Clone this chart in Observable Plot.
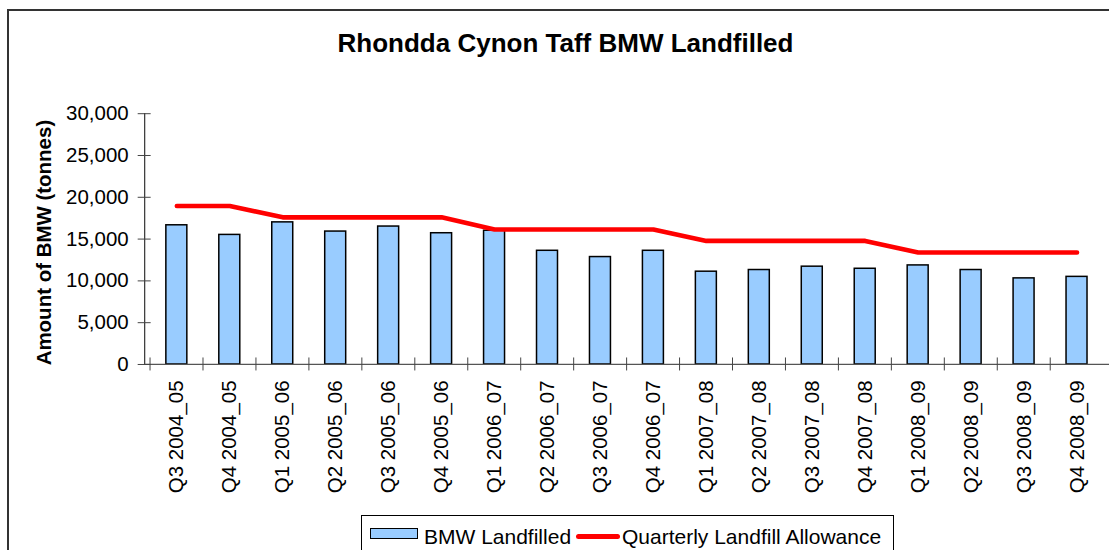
<!DOCTYPE html>
<html>
<head>
<meta charset="utf-8">
<script src="https://cdn.jsdelivr.net/npm/d3@7"></script>
<script src="https://cdn.jsdelivr.net/npm/@observablehq/plot@0.6"></script>
<style>
  html, body { margin: 0; padding: 0; background: #fff; overflow: hidden; }
  #page { position: relative; width: 1109px; height: 550px; overflow: hidden;
          font-family: "Liberation Sans", Arial, sans-serif; color: #000; }
  #frame { position: absolute; left: 7px; top: 9px; width: 1200px; height: 700px;
           border-left: 2px solid #333; border-top: 2px solid #333; }
  #title { position: absolute; left: 0; top: 30px; width: 1131px; text-align: center;
           font-size: 26px; line-height: 26px; font-weight: bold; }
  #chart { position: absolute; left: 0; top: 0; }
  #legend { position: absolute; left: 361px; top: 515px; width: 533px; height: 60px;
            box-sizing: border-box; border: 1px solid #000; background: #fff;
            font-size: 21px; line-height: 21px; }
  #legend .item { position: absolute; top: 10px; white-space: nowrap; }
  #legend .swatch { position: absolute; left: 8px; top: 12px; width: 48px; height: 11px;
                    box-sizing: border-box; border: 1.5px solid #000; }
  #legend .stroke { position: absolute; left: 214px; top: 18px; width: 44px; height: 4.5px;
                    border-radius: 3px; }
</style>
</head>
<body>
<div id="page">
  <div id="frame"></div>
  <div id="title"></div>
  <div id="chart"></div>
  <div id="legend">
    <span class="swatch"></span><span class="item" id="lg1" style="left:62px"></span>
    <span class="stroke"></span><span class="item" id="lg2" style="left:260px"></span>
  </div>
</div>
<script>
// Quarterly BMW (biodegradable municipal waste) sent to landfill, in tonnes
const quarters = [
  "Q3 2004_05", "Q4 2004_05",
  "Q1 2005_06", "Q2 2005_06", "Q3 2005_06", "Q4 2005_06",
  "Q1 2006_07", "Q2 2006_07", "Q3 2006_07", "Q4 2006_07",
  "Q1 2007_08", "Q2 2007_08", "Q3 2007_08", "Q4 2007_08",
  "Q1 2008_09", "Q2 2008_09", "Q3 2008_09", "Q4 2008_09"
];
const landfilled = [
  16650, 15500,
  17000, 15900, 16500, 15700,
  16000, 13600, 12850, 13600,
  11100, 11300, 11700, 11450,
  11850, 11300, 10300, 10480
];
const allowance = [
  18950, 18950,
  17600, 17600, 17600, 17600,
  16150, 16150, 16150, 16150,
  14780, 14780, 14780, 14780,
  13400, 13400, 13400, 13400
];
const yTicks = [0, 5000, 10000, 15000, 20000, 25000, 30000];

const titleText = "Rhondda Cynon Taff BMW Landfilled";
const yTitle = "Amount of BMW (tonnes)";
const seriesNames = ["BMW Landfilled", "Quarterly Landfill Allowance"];
const barFill = "#99CCFF";
const lineColor = "#FF0000";

const rows = quarters.map((q, i) => ({quarter: q, landfilled: landfilled[i], allowance: allowance[i]}));

const W = 1110, H = 500, ML = 144.3, MR = 0, MT = 113.3, MB = H - 364.3;
const step = (W - ML - MR) / quarters.length;
const font = '"Liberation Sans", Arial, sans-serif';

const chart = Plot.plot({
  width: W,
  height: H,
  marginLeft: ML,
  marginRight: MR,
  marginTop: MT,
  marginBottom: MB,
  style: {fontFamily: font, fontSize: "20.5px", color: "#000", background: "transparent", overflow: "visible"},
  x: {type: "band", domain: quarters, paddingInner: 0.6, paddingOuter: 0.3},
  y: {domain: [0, 30000]},
  marks: [
    Plot.barY(rows, {x: "quarter", y: "landfilled", fill: barFill, stroke: "#000", strokeWidth: 1.5}),
    // axis lines
    Plot.frame({anchor: "left", stroke: "#333", strokeWidth: 1.2}),
    Plot.frame({anchor: "bottom", stroke: "#555", strokeWidth: 1.2}),
    // y axis: labels, then ticks crossing the axis line
    Plot.axisY(yTicks, {tickSize: 0, tickPadding: 16, tickFormat: d3.format(","), label: null, fill: "#000"}),
    Plot.axisY(yTicks, {tickSize: 13, dx: 6.5, tickFormat: () => "", label: null, stroke: "#444"}),
    // x axis: rotated category labels, ticks on category boundaries
    Plot.axisX({tickSize: 0, tickPadding: 16, tickRotate: -90, label: null, fill: "#000"}),
    Plot.axisX({tickSize: 13, dy: -6.5, dx: -step / 2, tickFormat: () => "", label: null, stroke: "#444"}),
    Plot.text([yTitle], {frameAnchor: "left", text: d => d, rotate: -90, textAnchor: "middle",
                         dx: -100.3, dy: 3.5, fontWeight: "bold", fontSize: 20.5, fill: "#000"}),
    Plot.line(rows, {x: "quarter", y: "allowance", stroke: lineColor, strokeWidth: 4.6,
                     strokeLinecap: "round", strokeLinejoin: "round"})
  ]
});
document.getElementById("chart").appendChild(chart);

document.getElementById("title").textContent = titleText;
document.getElementById("lg1").textContent = seriesNames[0];
document.getElementById("lg2").textContent = seriesNames[1];
document.querySelector("#legend .swatch").style.background = barFill;
document.querySelector("#legend .stroke").style.background = lineColor;
</script>
</body>
</html>
